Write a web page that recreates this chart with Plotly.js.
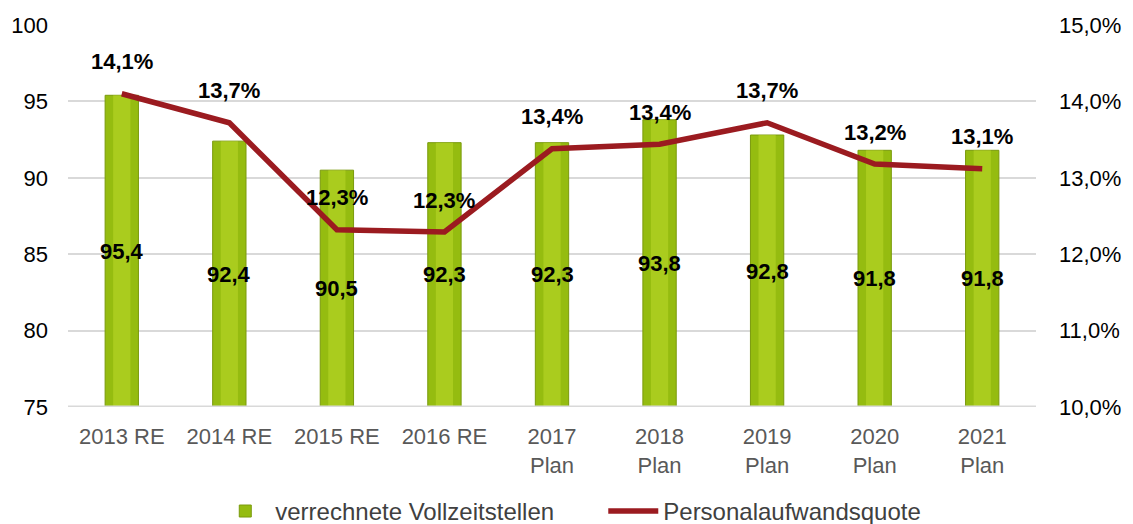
<!DOCTYPE html>
<html><head><meta charset="utf-8">
<script src="https://cdn.plot.ly/plotly-3.0.1.min.js"></script>
<style>html,body{margin:0;padding:0;background:#fff}#chart{width:1133px;height:524px}</style>
</head><body><div id="chart"></div>
<script>
var categories = ["2013 RE","2014 RE","2015 RE","2016 RE","2017<br>Plan","2018<br>Plan","2019<br>Plan","2020<br>Plan","2021<br>Plan"];
var vollzeitstellen = [95.4, 92.4, 90.5, 92.3, 92.3, 93.8, 92.8, 91.8, 91.8];
var quote = [14.1, 13.72, 12.32, 12.29, 13.38, 13.44, 13.72, 13.18, 13.12];
var quoteLabels = ["14,1%","13,7%","12,3%","12,3%","13,4%","13,4%","13,7%","13,2%","13,1%"];
var leftTicks = [75, 80, 85, 90, 95, 100];
var rightTicks = [10, 11, 12, 13, 14, 15];
var rightTickText = ["10,0%","11,0%","12,0%","13,0%","14,0%","15,0%"];
var axisBase = 75;

var fontFam = '"Liberation Sans", Arial, sans-serif';
function fmt(v, d){ return v.toFixed(d).replace('.', ','); }
var heights = vollzeitstellen.map(function(v){return v - axisBase;});

var bars = {
  type: 'bar', x: categories, y: heights, base: axisBase,
  name: 'verrechnete Vollzeitstellen',
  width: 0.31,
  marker: {color: '#95BC10', line: {color: '#7A9A0C', width: 1}},
  hoverinfo: 'skip'
};
var highlight = {
  type: 'bar', x: categories, y: heights, base: axisBase,
  width: 0.16, showlegend: false, hoverinfo: 'skip',
  marker: {color: 'rgba(185,215,40,0.6)', line: {width: 0}}
};
var line = {
  type: 'scatter', mode: 'lines', x: categories, y: quote, yaxis: 'y2',
  name: 'Personalaufwandsquote',
  line: {color: '#9B1B20', width: 5.5},
  hoverinfo: 'skip'
};

var annotations = quote.map(function(v, i){
  return {x: categories[i], y: v, xref: 'x', yref: 'y2', text: '<b>' + quoteLabels[i] + '</b>',
    showarrow: false, yshift: 32, font: {family: fontFam, size: 22, color: '#000'}};
}).concat(vollzeitstellen.map(function(v, i){
  return {x: categories[i], y: (v + axisBase) / 2, xref: 'x', yref: 'y', text: '<b>' + fmt(v,1) + '</b>',
    showarrow: false, font: {family: fontFam, size: 22, color: '#000'}};
}));

var layout = {
  width: 1133, height: 524,
  margin: {l: 68, r: 97, t: 25, b: 117},
  paper_bgcolor: '#fff', plot_bgcolor: '#fff',
  separators: ',.',
  barmode: 'overlay',
  font: {family: fontFam, size: 22, color: '#000'},
  showlegend: true,
  legend: {orientation: 'h', xref: 'container', yref: 'container', x: 0.19, xanchor: 'left', y: 0.024, yanchor: 'middle',
    entrywidth: 323, entrywidthmode: 'pixels',
    font: {family: fontFam, size: 24, color: '#404040'}, itemwidth: 50, tracegroupgap: 0},
  xaxis: {type: 'category', showgrid: false, zeroline: false, showline: false, automargin: false,
    tickfont: {family: fontFam, size: 22, color: '#595959'}, ticks: '', ticklabelstandoff: 14},
  yaxis: {range: [75, 100], tickvals: leftTicks, showgrid: true, gridcolor: '#D9D9D9', gridwidth: 2,
    zeroline: false, showline: false, ticks: '', ticklabelstandoff: 19, automargin: false,
    tickfont: {family: fontFam, size: 22, color: '#000'}},
  yaxis2: {range: [10, 15], tickvals: rightTicks, ticktext: rightTickText, overlaying: 'y', side: 'right', showgrid: false,
    zeroline: false, showline: false, ticks: '', ticklabelstandoff: 22, automargin: false,
    tickfont: {family: fontFam, size: 22, color: '#000'}},
  annotations: annotations,
  shapes: [{type: 'line', xref: 'paper', yref: 'y', x0: 0, x1: 1, y0: 75, y1: 75, line: {color: '#D9D9D9', width: 3}}]
};

Plotly.newPlot('chart', [bars, highlight, line], layout, {displayModeBar: false, staticPlot: true});
</script></body></html>
